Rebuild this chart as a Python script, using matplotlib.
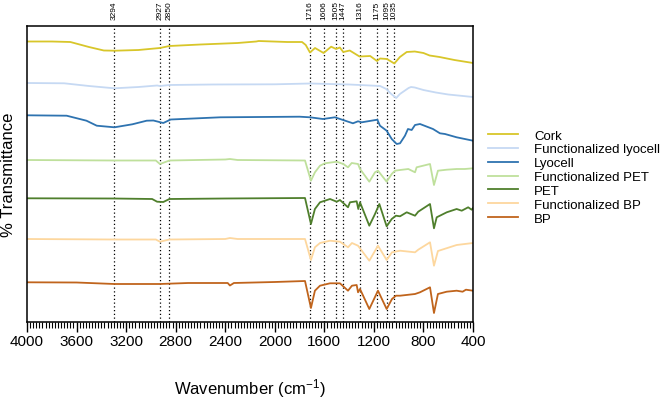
import matplotlib
matplotlib.use('Agg')
import matplotlib.pyplot as plt
from matplotlib.ticker import MultipleLocator

plt.rcParams['font.family'] = ['Liberation Sans', 'DejaVu Sans']
plt.rcParams['mathtext.default'] = 'regular'

# spectra (wavenumber, stacked transmittance in arbitrary units)
cork_wn = [4000, 3800, 3650, 3500, 3380, 3290, 3100, 2927, 2850, 2600, 2300, 2150, 2130, 1900, 1780, 1750,
           1716, 1675, 1606, 1545, 1505, 1475, 1447, 1395, 1316, 1230, 1175, 1150, 1095, 1035, 990, 935,
           870, 800, 750, 670, 550, 400]
cork_t = [280.5, 280.5, 280, 275, 271.5, 271.3, 272, 274, 276, 277.5, 279, 280.5, 281, 280, 280, 277,
          269.5, 274, 269, 275.3, 273, 274.5, 270, 271.5, 265.5, 266, 261, 263.5, 263, 258.5, 265, 270,
          270.5, 269, 266.5, 265, 262, 259]

flyo_wn = [4000, 3700, 3500, 3294, 3100, 2950, 2927, 2850, 2500, 2000, 1716, 1400, 1230, 1150, 1100, 1060,
           1020, 990, 920, 900, 870, 800, 700, 600, 400]
flyo_t = [239, 238.7, 236, 233.7, 235, 236.5, 236, 237, 237.5, 237.7, 238.5, 237.5, 236.5, 236, 233, 228,
          224, 228, 234, 235, 234.5, 232, 229.5, 227.5, 225]

lyo_wn = [4000, 3680, 3520, 3437, 3294, 3150, 3034, 2980, 2900, 2840, 2440, 1800, 1716, 1611, 1514, 1369,
          1328, 1298, 1172, 1151, 1097, 1056, 1016, 989, 949, 925, 895, 868, 828, 723, 667, 626, 532, 400]
lyo_t = [206.7, 206.3, 201.3, 196.3, 194.7, 197.7, 201.3, 201.5, 199, 202.5, 204.7, 205.3, 204.7, 203, 204.7, 198.7,
         200.7, 199.7, 202.3, 196.3, 191.3, 183, 178, 178.7, 186.3, 193, 192, 197, 198, 193, 188.7, 188, 184.7, 181.3]

fpet_wn = [4000, 3300, 2960, 2927, 2850, 2400, 2362, 2300, 1756, 1708, 1676, 1635, 1595, 1500, 1447, 1409,
           1379, 1328, 1312, 1237, 1191, 1167, 1097, 1056, 1030, 989, 922, 868, 855, 747, 715, 683,
           612, 532, 466, 400]
fpet_t = [162, 161.5, 161.5, 158, 161.5, 162.5, 163, 162, 161.5, 141.3, 149.7, 156.3, 158.7, 160.3, 158, 154.7,
          159, 158, 153, 140.3, 149.7, 151.3, 140.3, 148, 151.3, 152, 153, 149.7, 154.7, 158, 137, 151.3,
          152.3, 153, 153, 153.7]

pet_wn = [4000, 3300, 2990, 2950, 2900, 2850, 2400, 1756, 1708, 1676, 1635, 1554, 1500, 1474, 1409, 1393,
          1339, 1326, 1312, 1237, 1191, 1156, 1097, 1056, 1022, 989, 935, 868, 842, 747, 715, 693,
          612, 532, 491, 439, 411, 400]
pet_t = [123.7, 123.5, 123, 120.3, 120, 123, 123.5, 124, 98, 113, 119.7, 123, 120.3, 122, 114.7, 119.7,
         120.7, 113, 119.7, 96.3, 108, 118, 95.7, 103, 106.3, 105.7, 109.7, 106.3, 110.3, 118, 93.7, 104.7,
         109.7, 113, 111.3, 114.7, 112.3, 114]

fbp_wn = [4000, 3300, 2960, 2927, 2850, 2400, 2362, 2300, 1756, 1708, 1676, 1635, 1554, 1474, 1409, 1377,
          1328, 1237, 1167, 1097, 1054, 989, 868, 842, 747, 715, 683, 532, 400]
fbp_t = [83, 82.5, 82.5, 80.3, 82.5, 83, 84, 83, 83, 62, 74.7, 79, 81.3, 80.3, 74.7, 79,
         76.3, 61.3, 76.3, 62, 69.7, 71.3, 69.7, 72.3, 79.7, 56.3, 71, 77, 79]

bp_wn = [4000, 3600, 3294, 2927, 2700, 2380, 2362, 2330, 2000, 1756, 1708, 1676, 1635, 1554, 1474, 1409,
         1377, 1339, 1328, 1312, 1237, 1167, 1097, 1054, 1022, 989, 868, 828, 747, 715, 683, 612,
         532, 484, 457, 400]
bp_t = [39.7, 39.5, 38, 38, 39, 39, 36.5, 39, 40, 41, 14, 31.3, 36.3, 38.7, 38.7, 31.3,
        36.3, 37, 29.7, 33, 13, 31.3, 13, 23, 26.3, 26.3, 28, 29.7, 34.7, 9, 28, 30.3,
        31.3, 30.3, 32.3, 31.3]

peaks = [3294, 2927, 2850, 1716, 1606, 1505, 1447, 1316, 1175, 1095, 1035]

series = [
    ('Cork', cork_wn, cork_t, '#d8c62a'),
    ('Functionalized lyocell', flyo_wn, flyo_t, '#c6d9f3'),
    ('Lyocell', lyo_wn, lyo_t, '#2e73b0'),
    ('Functionalized PET', fpet_wn, fpet_t, '#bfe09c'),
    ('PET', pet_wn, pet_t, '#4f7f2c'),
    ('Functionalized BP', fbp_wn, fbp_t, '#fdd79e'),
    ('BP', bp_wn, bp_t, '#c0641c'),
]

fig = plt.figure(figsize=(6.66, 4.06), dpi=100)
ax = fig.add_axes([27/666, 83/406, 446/666, 296/406])

for p in peaks:
    ax.axvline(p, color='black', linestyle=(0, (1, 2)), linewidth=0.9, zorder=1)
    ax.text(p, 1.022, str(p), transform=ax.get_xaxis_transform(), rotation=90,
            ha='center', va='bottom', fontsize=6)

for name, wn, t, c in series:
    ax.plot(wn, t, color=c, linewidth=1.3, label=name, zorder=2)

ax.set_xlim(4000, 400)
ax.set_ylim(0, 296)
ax.xaxis.set_major_locator(MultipleLocator(400))
ax.xaxis.set_minor_locator(MultipleLocator(25))
ax.tick_params(axis='x', which='major', length=7, width=1, labelsize=11, pad=2)
ax.tick_params(axis='x', which='minor', length=4, width=0.8)
ax.set_yticks([])
for s in ax.spines.values():
    s.set_linewidth(1.1)

ax.set_xlabel('Wavenumber (cm$^{-1}$)', fontsize=12, labelpad=20)
ax.set_ylabel('% Transmittance', fontsize=12)
ax.yaxis.set_label_coords(-0.024, 0.5)

fig.legend(loc='center left', bbox_to_anchor=(488/666, 1 - 178/406), frameon=False,
           fontsize=9.5, handlelength=2.3, handletextpad=1.2, labelspacing=0.12,
           borderpad=0, borderaxespad=0)

fig.savefig('out.png', dpi=100)
